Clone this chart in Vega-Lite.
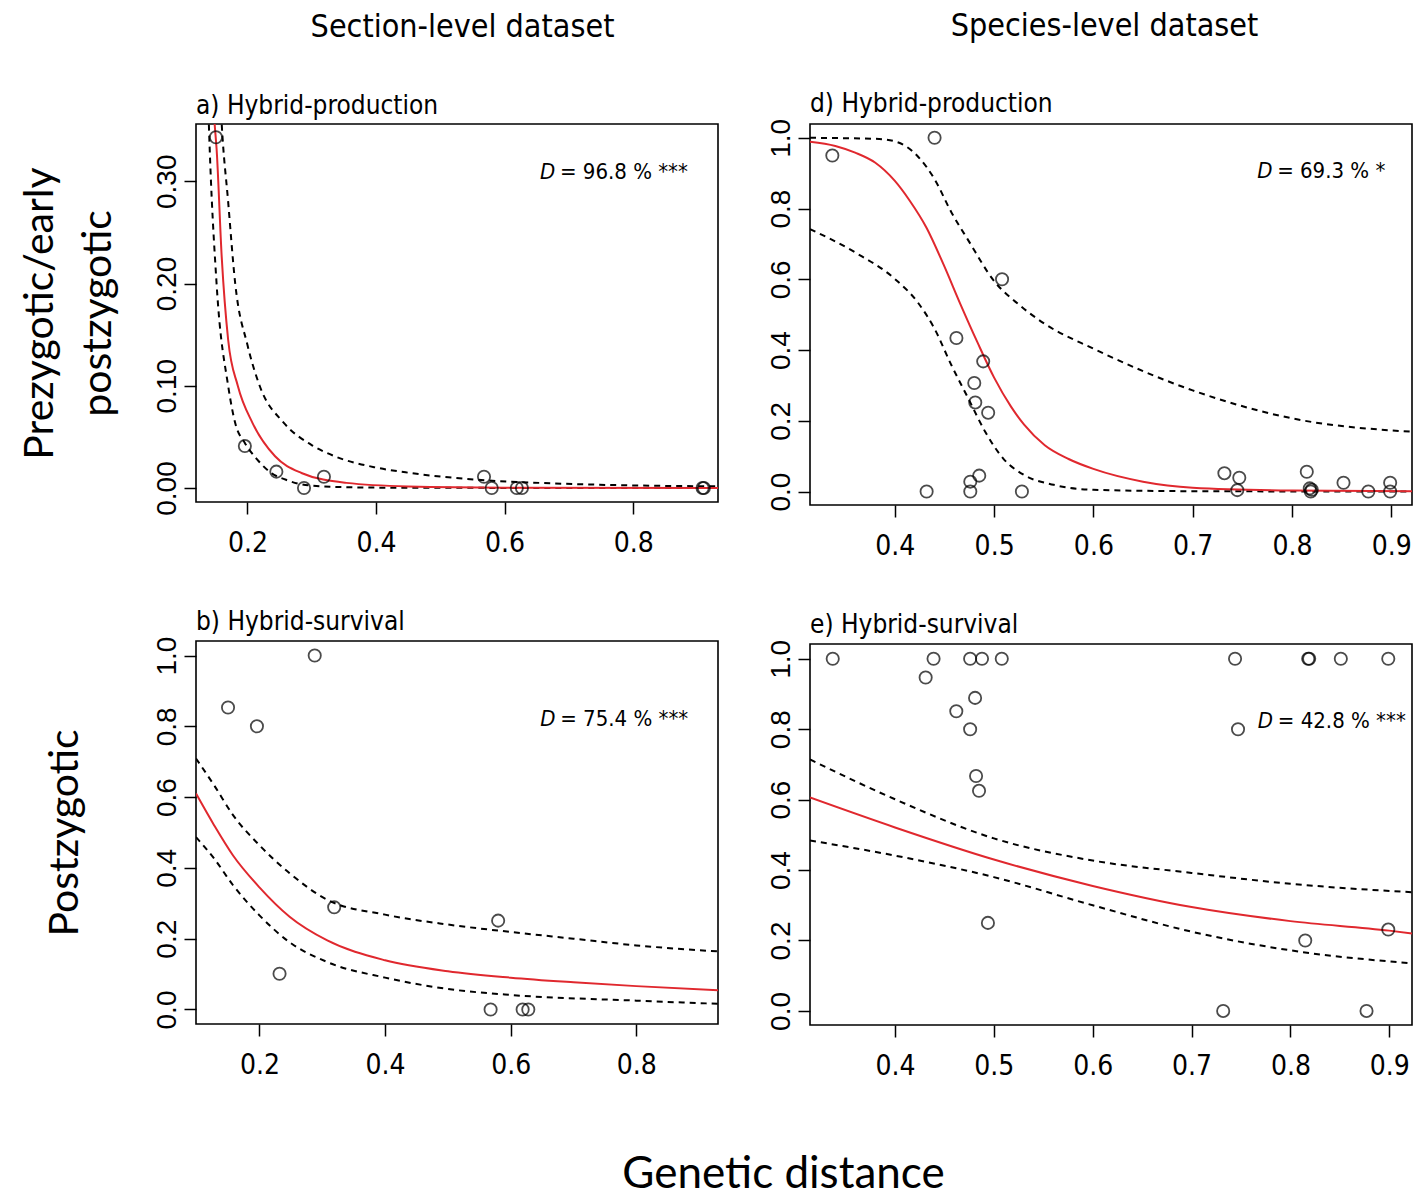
{
  "$schema": "https://vega.github.io/schema/vega-lite/v6.json",
  "padding": {"left": 18, "top": 9, "right": 2, "bottom": 0},
  "background": "white",
  "config": {
    "view": {"stroke": "black", "strokeWidth": 1.6},
    "axis": {"grid": false, "domain": false, "ticks": true, "tickColor": "black", "tickWidth": 1.5, "tickSize": 12, "labelColor": "black", "titleColor": "black", "labelOverlap": false, "labelFlush": false},
    "axisX": {"labelFont": "DejaVu Sans Condensed, sans-serif", "labelFontSize": 28, "labelPadding": 15},
    "axisY": {"labelFont": "Liberation Sans, Arial, sans-serif", "labelFontSize": 28, "labelAngle": -90, "labelAlign": "center", "labelBaseline": "bottom", "labelPadding": 3, "titleFont": "Lato", "titleFontSize": 41, "titleFontWeight": "normal", "titleLineHeight": 58},
    "title": {"font": "DejaVu Sans Condensed, sans-serif", "fontSize": 26, "fontWeight": "normal", "anchor": "start", "frame": "group", "color": "black", "offset": 6},
    "line": {"interpolate": "monotone"},
    "concat": {"spacing": 47}
  },
  "datasets": {
    "obs": [
      {"panel": "a", "x": 0.151, "y": 0.343}, {"panel": "a", "x": 0.196, "y": 0.041}, {"panel": "a", "x": 0.245, "y": 0.016},
      {"panel": "a", "x": 0.288, "y": 0.0}, {"panel": "a", "x": 0.319, "y": 0.011}, {"panel": "a", "x": 0.568, "y": 0.011},
      {"panel": "a", "x": 0.580, "y": 0.0}, {"panel": "a", "x": 0.619, "y": 0.0}, {"panel": "a", "x": 0.627, "y": 0.0},
      {"panel": "a", "x": 0.910, "y": 0.0}, {"panel": "a", "x": 0.908, "y": 0.0},
      {"panel": "d", "x": 0.337, "y": 0.950}, {"panel": "d", "x": 0.440, "y": 1.0}, {"panel": "d", "x": 0.508, "y": 0.60},
      {"panel": "d", "x": 0.462, "y": 0.434}, {"panel": "d", "x": 0.489, "y": 0.368}, {"panel": "d", "x": 0.480, "y": 0.307},
      {"panel": "d", "x": 0.481, "y": 0.252}, {"panel": "d", "x": 0.494, "y": 0.223}, {"panel": "d", "x": 0.432, "y": 0.0},
      {"panel": "d", "x": 0.476, "y": 0.028}, {"panel": "d", "x": 0.476, "y": 0.0}, {"panel": "d", "x": 0.485, "y": 0.045},
      {"panel": "d", "x": 0.528, "y": 0.0}, {"panel": "d", "x": 0.732, "y": 0.052}, {"panel": "d", "x": 0.747, "y": 0.039},
      {"panel": "d", "x": 0.745, "y": 0.004}, {"panel": "d", "x": 0.815, "y": 0.056}, {"panel": "d", "x": 0.818, "y": 0.009},
      {"panel": "d", "x": 0.819, "y": 0.0}, {"panel": "d", "x": 0.820, "y": 0.005}, {"panel": "d", "x": 0.852, "y": 0.025},
      {"panel": "d", "x": 0.877, "y": 0.0}, {"panel": "d", "x": 0.899, "y": 0.025}, {"panel": "d", "x": 0.899, "y": 0.0},
      {"panel": "b", "x": 0.150, "y": 0.853}, {"panel": "b", "x": 0.196, "y": 0.800}, {"panel": "b", "x": 0.288, "y": 1.0},
      {"panel": "b", "x": 0.319, "y": 0.289}, {"panel": "b", "x": 0.232, "y": 0.101}, {"panel": "b", "x": 0.580, "y": 0.251},
      {"panel": "b", "x": 0.568, "y": 0.0}, {"panel": "b", "x": 0.619, "y": 0.0}, {"panel": "b", "x": 0.628, "y": 0.0},
      {"panel": "e", "x": 0.337, "y": 1.0}, {"panel": "e", "x": 0.439, "y": 1.0}, {"panel": "e", "x": 0.431, "y": 0.947},
      {"panel": "e", "x": 0.476, "y": 1.0}, {"panel": "e", "x": 0.488, "y": 1.0}, {"panel": "e", "x": 0.508, "y": 1.0},
      {"panel": "e", "x": 0.462, "y": 0.851}, {"panel": "e", "x": 0.481, "y": 0.889}, {"panel": "e", "x": 0.476, "y": 0.80},
      {"panel": "e", "x": 0.482, "y": 0.667}, {"panel": "e", "x": 0.485, "y": 0.625}, {"panel": "e", "x": 0.494, "y": 0.25},
      {"panel": "e", "x": 0.744, "y": 1.0}, {"panel": "e", "x": 0.747, "y": 0.80}, {"panel": "e", "x": 0.732, "y": 0.0},
      {"panel": "e", "x": 0.819, "y": 1.0}, {"panel": "e", "x": 0.818, "y": 1.0}, {"panel": "e", "x": 0.851, "y": 1.0},
      {"panel": "e", "x": 0.899, "y": 1.0}, {"panel": "e", "x": 0.815, "y": 0.20}, {"panel": "e", "x": 0.899, "y": 0.231},
      {"panel": "e", "x": 0.877, "y": 0.0}
    ],
    "curves": [
      {"panel": "a", "kind": "fit", "x": 0.143, "y": 0.42}, {"panel": "a", "kind": "fit", "x": 0.149, "y": 0.356},
      {"panel": "a", "kind": "fit", "x": 0.152, "y": 0.332}, {"panel": "a", "kind": "fit", "x": 0.160, "y": 0.226},
      {"panel": "a", "kind": "fit", "x": 0.170, "y": 0.145}, {"panel": "a", "kind": "fit", "x": 0.185, "y": 0.10},
      {"panel": "a", "kind": "fit", "x": 0.208, "y": 0.0635}, {"panel": "a", "kind": "fit", "x": 0.243, "y": 0.031},
      {"panel": "a", "kind": "fit", "x": 0.284, "y": 0.0147}, {"panel": "a", "kind": "fit", "x": 0.354, "y": 0.005},
      {"panel": "a", "kind": "fit", "x": 0.45, "y": 0.0015}, {"panel": "a", "kind": "fit", "x": 0.6, "y": 0.0003},
      {"panel": "a", "kind": "fit", "x": 0.932, "y": 0.0},
      {"panel": "a", "kind": "upper", "x": 0.155, "y": 0.42}, {"panel": "a", "kind": "upper", "x": 0.160, "y": 0.356},
      {"panel": "a", "kind": "upper", "x": 0.170, "y": 0.28}, {"panel": "a", "kind": "upper", "x": 0.181, "y": 0.20},
      {"panel": "a", "kind": "upper", "x": 0.200, "y": 0.14}, {"panel": "a", "kind": "upper", "x": 0.219, "y": 0.10},
      {"panel": "a", "kind": "upper", "x": 0.257, "y": 0.0635}, {"panel": "a", "kind": "upper", "x": 0.30, "y": 0.042},
      {"panel": "a", "kind": "upper", "x": 0.336, "y": 0.031}, {"panel": "a", "kind": "upper", "x": 0.40, "y": 0.02},
      {"panel": "a", "kind": "upper", "x": 0.453, "y": 0.0147}, {"panel": "a", "kind": "upper", "x": 0.559, "y": 0.008},
      {"panel": "a", "kind": "upper", "x": 0.676, "y": 0.0045}, {"panel": "a", "kind": "upper", "x": 0.80, "y": 0.0025},
      {"panel": "a", "kind": "upper", "x": 0.932, "y": 0.0016},
      {"panel": "a", "kind": "lower", "x": 0.137, "y": 0.42}, {"panel": "a", "kind": "lower", "x": 0.140, "y": 0.356},
      {"panel": "a", "kind": "lower", "x": 0.152, "y": 0.20}, {"panel": "a", "kind": "lower", "x": 0.170, "y": 0.10},
      {"panel": "a", "kind": "lower", "x": 0.181, "y": 0.0635}, {"panel": "a", "kind": "lower", "x": 0.196, "y": 0.044},
      {"panel": "a", "kind": "lower", "x": 0.215, "y": 0.028}, {"panel": "a", "kind": "lower", "x": 0.237, "y": 0.0147},
      {"panel": "a", "kind": "lower", "x": 0.26, "y": 0.008}, {"panel": "a", "kind": "lower", "x": 0.290, "y": 0.003},
      {"panel": "a", "kind": "lower", "x": 0.35, "y": 0.0008}, {"panel": "a", "kind": "lower", "x": 0.45, "y": 0.0002},
      {"panel": "a", "kind": "lower", "x": 0.932, "y": 0.0},
      {"panel": "d", "kind": "fit", "x": 0.3145, "y": 0.989}, {"panel": "d", "kind": "fit", "x": 0.34, "y": 0.977},
      {"panel": "d", "kind": "fit", "x": 0.36, "y": 0.958}, {"panel": "d", "kind": "fit", "x": 0.38, "y": 0.93},
      {"panel": "d", "kind": "fit", "x": 0.40, "y": 0.878}, {"panel": "d", "kind": "fit", "x": 0.415, "y": 0.822},
      {"panel": "d", "kind": "fit", "x": 0.432, "y": 0.745}, {"panel": "d", "kind": "fit", "x": 0.449, "y": 0.642},
      {"panel": "d", "kind": "fit", "x": 0.466, "y": 0.53}, {"panel": "d", "kind": "fit", "x": 0.483, "y": 0.423},
      {"panel": "d", "kind": "fit", "x": 0.50, "y": 0.322}, {"panel": "d", "kind": "fit", "x": 0.517, "y": 0.24},
      {"panel": "d", "kind": "fit", "x": 0.53, "y": 0.19}, {"panel": "d", "kind": "fit", "x": 0.551, "y": 0.131},
      {"panel": "d", "kind": "fit", "x": 0.575, "y": 0.092}, {"panel": "d", "kind": "fit", "x": 0.60, "y": 0.064},
      {"panel": "d", "kind": "fit", "x": 0.65, "y": 0.028}, {"panel": "d", "kind": "fit", "x": 0.70, "y": 0.011},
      {"panel": "d", "kind": "fit", "x": 0.80, "y": 0.003}, {"panel": "d", "kind": "fit", "x": 0.921, "y": 0.001},
      {"panel": "d", "kind": "upper", "x": 0.3145, "y": 1.0}, {"panel": "d", "kind": "upper", "x": 0.381, "y": 0.997},
      {"panel": "d", "kind": "upper", "x": 0.40, "y": 0.99}, {"panel": "d", "kind": "upper", "x": 0.423, "y": 0.948},
      {"panel": "d", "kind": "upper", "x": 0.44, "y": 0.883}, {"panel": "d", "kind": "upper", "x": 0.457, "y": 0.789},
      {"panel": "d", "kind": "upper", "x": 0.474, "y": 0.71}, {"panel": "d", "kind": "upper", "x": 0.50, "y": 0.595},
      {"panel": "d", "kind": "upper", "x": 0.526, "y": 0.526}, {"panel": "d", "kind": "upper", "x": 0.551, "y": 0.474},
      {"panel": "d", "kind": "upper", "x": 0.60, "y": 0.404}, {"panel": "d", "kind": "upper", "x": 0.70, "y": 0.286},
      {"panel": "d", "kind": "upper", "x": 0.80, "y": 0.207}, {"panel": "d", "kind": "upper", "x": 0.921, "y": 0.169},
      {"panel": "d", "kind": "lower", "x": 0.3145, "y": 0.742}, {"panel": "d", "kind": "lower", "x": 0.36, "y": 0.676},
      {"panel": "d", "kind": "lower", "x": 0.40, "y": 0.601}, {"panel": "d", "kind": "lower", "x": 0.423, "y": 0.535},
      {"panel": "d", "kind": "lower", "x": 0.44, "y": 0.46}, {"panel": "d", "kind": "lower", "x": 0.457, "y": 0.357},
      {"panel": "d", "kind": "lower", "x": 0.474, "y": 0.263}, {"panel": "d", "kind": "lower", "x": 0.491, "y": 0.169},
      {"panel": "d", "kind": "lower", "x": 0.509, "y": 0.094}, {"panel": "d", "kind": "lower", "x": 0.53, "y": 0.047},
      {"panel": "d", "kind": "lower", "x": 0.56, "y": 0.019}, {"panel": "d", "kind": "lower", "x": 0.60, "y": 0.005},
      {"panel": "d", "kind": "lower", "x": 0.70, "y": 0.001}, {"panel": "d", "kind": "lower", "x": 0.921, "y": 0.0},
      {"panel": "b", "kind": "fit", "x": 0.099, "y": 0.61}, {"panel": "b", "kind": "fit", "x": 0.128, "y": 0.52},
      {"panel": "b", "kind": "fit", "x": 0.158, "y": 0.435}, {"panel": "b", "kind": "fit", "x": 0.20, "y": 0.345},
      {"panel": "b", "kind": "fit", "x": 0.248, "y": 0.262}, {"panel": "b", "kind": "fit", "x": 0.308, "y": 0.195},
      {"panel": "b", "kind": "fit", "x": 0.40, "y": 0.139}, {"panel": "b", "kind": "fit", "x": 0.50, "y": 0.108},
      {"panel": "b", "kind": "fit", "x": 0.60, "y": 0.09}, {"panel": "b", "kind": "fit", "x": 0.70, "y": 0.077},
      {"panel": "b", "kind": "fit", "x": 0.80, "y": 0.066}, {"panel": "b", "kind": "fit", "x": 0.93, "y": 0.054},
      {"panel": "b", "kind": "upper", "x": 0.099, "y": 0.709}, {"panel": "b", "kind": "upper", "x": 0.128, "y": 0.633},
      {"panel": "b", "kind": "upper", "x": 0.158, "y": 0.549}, {"panel": "b", "kind": "upper", "x": 0.20, "y": 0.464},
      {"panel": "b", "kind": "upper", "x": 0.248, "y": 0.385}, {"panel": "b", "kind": "upper", "x": 0.308, "y": 0.31},
      {"panel": "b", "kind": "upper", "x": 0.40, "y": 0.268}, {"panel": "b", "kind": "upper", "x": 0.50, "y": 0.24},
      {"panel": "b", "kind": "upper", "x": 0.60, "y": 0.219}, {"panel": "b", "kind": "upper", "x": 0.70, "y": 0.20},
      {"panel": "b", "kind": "upper", "x": 0.80, "y": 0.181}, {"panel": "b", "kind": "upper", "x": 0.93, "y": 0.164},
      {"panel": "b", "kind": "lower", "x": 0.099, "y": 0.487}, {"panel": "b", "kind": "lower", "x": 0.128, "y": 0.426},
      {"panel": "b", "kind": "lower", "x": 0.158, "y": 0.351}, {"panel": "b", "kind": "lower", "x": 0.20, "y": 0.266},
      {"panel": "b", "kind": "lower", "x": 0.248, "y": 0.19}, {"panel": "b", "kind": "lower", "x": 0.308, "y": 0.134},
      {"panel": "b", "kind": "lower", "x": 0.40, "y": 0.09}, {"panel": "b", "kind": "lower", "x": 0.50, "y": 0.058},
      {"panel": "b", "kind": "lower", "x": 0.60, "y": 0.041}, {"panel": "b", "kind": "lower", "x": 0.80, "y": 0.025},
      {"panel": "b", "kind": "lower", "x": 0.93, "y": 0.016},
      {"panel": "e", "kind": "fit", "x": 0.314, "y": 0.606}, {"panel": "e", "kind": "fit", "x": 0.40, "y": 0.521},
      {"panel": "e", "kind": "fit", "x": 0.50, "y": 0.43}, {"panel": "e", "kind": "fit", "x": 0.60, "y": 0.355},
      {"panel": "e", "kind": "fit", "x": 0.70, "y": 0.295}, {"panel": "e", "kind": "fit", "x": 0.80, "y": 0.255},
      {"panel": "e", "kind": "fit", "x": 0.90, "y": 0.228}, {"panel": "e", "kind": "fit", "x": 0.923, "y": 0.22},
      {"panel": "e", "kind": "upper", "x": 0.314, "y": 0.714}, {"panel": "e", "kind": "upper", "x": 0.40, "y": 0.601},
      {"panel": "e", "kind": "upper", "x": 0.50, "y": 0.49}, {"panel": "e", "kind": "upper", "x": 0.60, "y": 0.427},
      {"panel": "e", "kind": "upper", "x": 0.70, "y": 0.392}, {"panel": "e", "kind": "upper", "x": 0.80, "y": 0.361},
      {"panel": "e", "kind": "upper", "x": 0.923, "y": 0.337},
      {"panel": "e", "kind": "lower", "x": 0.314, "y": 0.484}, {"panel": "e", "kind": "lower", "x": 0.40, "y": 0.441},
      {"panel": "e", "kind": "lower", "x": 0.50, "y": 0.38}, {"panel": "e", "kind": "lower", "x": 0.60, "y": 0.30},
      {"panel": "e", "kind": "lower", "x": 0.70, "y": 0.225}, {"panel": "e", "kind": "lower", "x": 0.80, "y": 0.172},
      {"panel": "e", "kind": "lower", "x": 0.923, "y": 0.135}
    ],
    "notes": [
      {"panel": "a", "label": "= 96.8 % ***"},
      {"panel": "d", "label": "= 69.3 % *"},
      {"panel": "b", "label": "= 75.4 % ***"},
      {"panel": "e", "label": "= 42.8 % ***"}
    ]
  },
  "title": {"text": "Genetic distance", "orient": "bottom", "anchor": "middle", "frame": "bounds", "dx": 68, "font": "Lato", "fontSize": 44, "offset": 72},
  "align": "none",
  "hconcat": [
    {
      "title": {"text": "Section-level dataset", "anchor": "middle", "frame": "bounds", "dx": 94, "fontSize": 32, "offset": 48},
      "spacing": 50,
      "vconcat": [
        {
          "width": 522, "height": 378,
          "title": {"text": "a) Hybrid-production", "offset": 5},
          "layer": [
            {"data": {"name": "curves"}, "transform": [{"filter": "datum.panel === 'a' && datum.kind !== 'fit'"}],
             "mark": {"type": "line", "clip": true, "color": "black", "strokeDash": [6, 5], "strokeWidth": 2},
             "encoding": {
               "x": {"field": "x", "type": "quantitative", "scale": {"domain": [0.120, 0.932], "nice": false, "zero": false}, "axis": {"values": [0.2, 0.4, 0.6, 0.8], "format": ".1f", "title": null}},
               "y": {"field": "y", "type": "quantitative", "scale": {"domain": [-0.0137, 0.356], "nice": false, "zero": false}, "axis": {"values": [0, 0.1, 0.2, 0.3], "format": ".2f", "title": ["Prezygotic/early", "postzygotic"], "titlePadding": 34}},
               "detail": {"field": "kind"}}},
            {"data": {"name": "curves"}, "transform": [{"filter": "datum.panel === 'a' && datum.kind === 'fit'"}],
             "mark": {"type": "line", "clip": true, "color": "#e0282e", "strokeWidth": 2},
             "encoding": {"x": {"field": "x", "type": "quantitative"}, "y": {"field": "y", "type": "quantitative"}}},
            {"data": {"name": "obs"}, "transform": [{"filter": "datum.panel === 'a'"}],
             "mark": {"type": "point", "shape": "circle", "filled": false, "color": "black", "size": 150, "strokeWidth": 1.8, "clip": true},
             "encoding": {"x": {"field": "x", "type": "quantitative"}, "y": {"field": "y", "type": "quantitative"}}},
            {"data": {"name": "notes"}, "transform": [{"filter": "datum.panel === 'a'"}],
             "mark": {"type": "text", "text": "D", "fontStyle": "italic", "align": "left", "baseline": "middle", "font": "DejaVu Sans Condensed, sans-serif", "fontSize": 22, "color": "black"},
             "encoding": {"x": {"datum": 0.655}, "y": {"datum": 0.309}}},
            {"data": {"name": "notes"}, "transform": [{"filter": "datum.panel === 'a'"}],
             "mark": {"type": "text", "dx": 20, "align": "left", "baseline": "middle", "font": "DejaVu Sans Condensed, sans-serif", "fontSize": 22, "color": "black"},
             "encoding": {"x": {"datum": 0.655}, "y": {"datum": 0.309}, "text": {"field": "label"}}}
          ]
        },
        {
          "width": 522, "height": 383,
          "title": {"text": "b) Hybrid-survival", "offset": 1},
          "layer": [
            {"data": {"name": "curves"}, "transform": [{"filter": "datum.panel === 'b' && datum.kind !== 'fit'"}],
             "mark": {"type": "line", "clip": true, "color": "black", "strokeDash": [6, 5], "strokeWidth": 2},
             "encoding": {
               "x": {"field": "x", "type": "quantitative", "scale": {"domain": [0.099, 0.930], "nice": false, "zero": false}, "axis": {"values": [0.2, 0.4, 0.6, 0.8], "format": ".1f", "title": null}},
               "y": {"field": "y", "type": "quantitative", "scale": {"domain": [-0.041, 1.041], "nice": false, "zero": false}, "axis": {"values": [0, 0.2, 0.4, 0.6, 0.8, 1.0], "format": ".1f", "title": "Postzygotic", "titlePadding": 67}},
               "detail": {"field": "kind"}}},
            {"data": {"name": "curves"}, "transform": [{"filter": "datum.panel === 'b' && datum.kind === 'fit'"}],
             "mark": {"type": "line", "clip": true, "color": "#e0282e", "strokeWidth": 2},
             "encoding": {"x": {"field": "x", "type": "quantitative"}, "y": {"field": "y", "type": "quantitative"}}},
            {"data": {"name": "obs"}, "transform": [{"filter": "datum.panel === 'b'"}],
             "mark": {"type": "point", "shape": "circle", "filled": false, "color": "black", "size": 150, "strokeWidth": 1.8, "clip": true},
             "encoding": {"x": {"field": "x", "type": "quantitative"}, "y": {"field": "y", "type": "quantitative"}}},
            {"data": {"name": "notes"}, "transform": [{"filter": "datum.panel === 'b'"}],
             "mark": {"type": "text", "text": "D", "fontStyle": "italic", "align": "left", "baseline": "middle", "font": "DejaVu Sans Condensed, sans-serif", "fontSize": 22, "color": "black"},
             "encoding": {"x": {"datum": 0.647}, "y": {"datum": 0.821}}},
            {"data": {"name": "notes"}, "transform": [{"filter": "datum.panel === 'b'"}],
             "mark": {"type": "text", "dx": 20, "align": "left", "baseline": "middle", "font": "DejaVu Sans Condensed, sans-serif", "fontSize": 22, "color": "black"},
             "encoding": {"x": {"datum": 0.647}, "y": {"datum": 0.821}, "text": {"field": "label"}}}
          ]
        }
      ]
    },
    {
      "title": {"text": "Species-level dataset", "anchor": "middle", "frame": "bounds", "dx": 15, "fontSize": 32, "offset": 48},
      "spacing": 50,
      "vconcat": [
        {
          "width": 602, "height": 381,
          "title": {"text": "d) Hybrid-production", "offset": 1},
          "layer": [
            {"data": {"name": "curves"}, "transform": [{"filter": "datum.panel === 'd' && datum.kind !== 'fit'"}],
             "mark": {"type": "line", "clip": true, "color": "black", "strokeDash": [6, 5], "strokeWidth": 2},
             "encoding": {
               "x": {"field": "x", "type": "quantitative", "scale": {"domain": [0.3145, 0.921], "nice": false, "zero": false}, "axis": {"values": [0.4, 0.5, 0.6, 0.7, 0.8, 0.9], "format": ".1f", "title": null}},
               "y": {"field": "y", "type": "quantitative", "scale": {"domain": [-0.038, 1.039], "nice": false, "zero": false}, "axis": {"values": [0, 0.2, 0.4, 0.6, 0.8, 1.0], "format": ".1f", "title": null}},
               "detail": {"field": "kind"}}},
            {"data": {"name": "curves"}, "transform": [{"filter": "datum.panel === 'd' && datum.kind === 'fit'"}],
             "mark": {"type": "line", "clip": true, "color": "#e0282e", "strokeWidth": 2},
             "encoding": {"x": {"field": "x", "type": "quantitative"}, "y": {"field": "y", "type": "quantitative"}}},
            {"data": {"name": "obs"}, "transform": [{"filter": "datum.panel === 'd'"}],
             "mark": {"type": "point", "shape": "circle", "filled": false, "color": "black", "size": 150, "strokeWidth": 1.8, "clip": true},
             "encoding": {"x": {"field": "x", "type": "quantitative"}, "y": {"field": "y", "type": "quantitative"}}},
            {"data": {"name": "notes"}, "transform": [{"filter": "datum.panel === 'd'"}],
             "mark": {"type": "text", "text": "D", "fontStyle": "italic", "align": "left", "baseline": "middle", "font": "DejaVu Sans Condensed, sans-serif", "fontSize": 22, "color": "black"},
             "encoding": {"x": {"datum": 0.765}, "y": {"datum": 0.906}}},
            {"data": {"name": "notes"}, "transform": [{"filter": "datum.panel === 'd'"}],
             "mark": {"type": "text", "dx": 20, "align": "left", "baseline": "middle", "font": "DejaVu Sans Condensed, sans-serif", "fontSize": 22, "color": "black"},
             "encoding": {"x": {"datum": 0.765}, "y": {"datum": 0.906}, "text": {"field": "label"}}}
          ]
        },
        {
          "width": 602, "height": 381,
          "title": {"text": "e) Hybrid-survival", "offset": 1},
          "layer": [
            {"data": {"name": "curves"}, "transform": [{"filter": "datum.panel === 'e' && datum.kind !== 'fit'"}],
             "mark": {"type": "line", "clip": true, "color": "black", "strokeDash": [6, 5], "strokeWidth": 2},
             "encoding": {
               "x": {"field": "x", "type": "quantitative", "scale": {"domain": [0.314, 0.923], "nice": false, "zero": false}, "axis": {"values": [0.4, 0.5, 0.6, 0.7, 0.8, 0.9], "format": ".1f", "title": null}},
               "y": {"field": "y", "type": "quantitative", "scale": {"domain": [-0.04, 1.042], "nice": false, "zero": false}, "axis": {"values": [0, 0.2, 0.4, 0.6, 0.8, 1.0], "format": ".1f", "title": null}},
               "detail": {"field": "kind"}}},
            {"data": {"name": "curves"}, "transform": [{"filter": "datum.panel === 'e' && datum.kind === 'fit'"}],
             "mark": {"type": "line", "clip": true, "color": "#e0282e", "strokeWidth": 2},
             "encoding": {"x": {"field": "x", "type": "quantitative"}, "y": {"field": "y", "type": "quantitative"}}},
            {"data": {"name": "obs"}, "transform": [{"filter": "datum.panel === 'e'"}],
             "mark": {"type": "point", "shape": "circle", "filled": false, "color": "black", "size": 150, "strokeWidth": 1.8, "clip": true},
             "encoding": {"x": {"field": "x", "type": "quantitative"}, "y": {"field": "y", "type": "quantitative"}}},
            {"data": {"name": "notes"}, "transform": [{"filter": "datum.panel === 'e'"}],
             "mark": {"type": "text", "text": "D", "fontStyle": "italic", "align": "left", "baseline": "middle", "font": "DejaVu Sans Condensed, sans-serif", "fontSize": 22, "color": "black"},
             "encoding": {"x": {"datum": 0.767}, "y": {"datum": 0.823}}},
            {"data": {"name": "notes"}, "transform": [{"filter": "datum.panel === 'e'"}],
             "mark": {"type": "text", "dx": 20, "align": "left", "baseline": "middle", "font": "DejaVu Sans Condensed, sans-serif", "fontSize": 22, "color": "black"},
             "encoding": {"x": {"datum": 0.767}, "y": {"datum": 0.823}, "text": {"field": "label"}}}
          ]
        }
      ]
    }
  ]
}
